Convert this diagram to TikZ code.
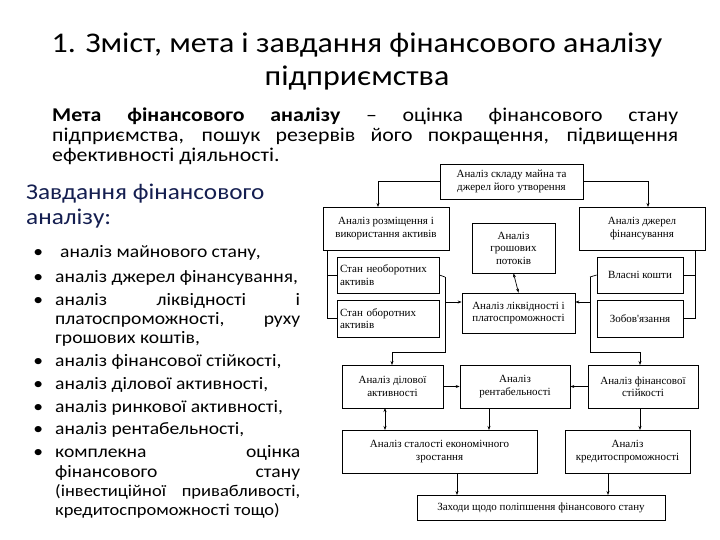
\documentclass[tikz,border=0pt]{standalone}
\usepackage{fontspec}
\setmainfont{Carlito}[FakeStretch=1.12]
\newfontfamily\dfont{Liberation Serif}
\usepackage{enumitem}
\usetikzlibrary{arrows.meta}
\definecolor{navy}{RGB}{20,30,80}
\begin{document}
\begin{tikzpicture}[x=1pt,y=-1pt,
  bx/.style={draw=black,line width=0.7pt,align=center,font=\dfont\fontsize{11}{12.5}\selectfont,inner sep=1pt},
  ln/.style={line width=0.7pt},
  ar/.style={line width=0.7pt,-{Stealth[length=4pt,width=3pt]}},
  dar/.style={line width=0.7pt,{Stealth[length=4pt,width=3pt]}-{Stealth[length=4pt,width=3pt]}}]
\useasboundingbox (0,0) rectangle (720,540);
\node (title) at (357,62) [align=center,font=\fontsize{28.5}{33}\selectfont] {1. Зміст, мета і завдання фінансового аналізу\\підприємства};
\node (goal) at (52,108) [anchor=north west,text width=626,align=justify,inner sep=0,font=\fontsize{19.5}{20}\selectfont] {\textbf{Мета фінансового аналізу} – оцінка фінансового стану підприємства, пошук резервів його покращення, підвищення ефективності діяльності.};
\node (task) at (26,184) [anchor=north west,align=left,inner sep=0,text=navy,font=\fontsize{22.5}{25}\selectfont] {Завдання фінансового\\аналізу:};
\node (list) at (26,238) [anchor=north west,text width=274,inner sep=0,align=justify,font=\fontsize{17.5}{19.3}\selectfont] {%
\begin{itemize}[leftmargin=29pt,labelsep=12pt,itemsep=3.5pt,topsep=0pt,parsep=0pt,partopsep=0pt]
\item \hspace{5pt}аналіз майнового стану,\vspace{2pt}
\item аналіз джерел фінансування,
\item аналіз ліквідності і платоспроможності, руху грошових коштів,
\item аналіз фінансової стійкості,
\item аналіз ділової активності,
\item аналіз ринкової активності,
\item аналіз рентабельності,
\item комплекна оцінка фінансового стану {\fontsize{16.5}{19.3}\selectfont (інвестиційної привабливості, кредитоспроможності тощо)}
\end{itemize}};
% diagram
\node[bx,minimum width=143,minimum height=35] (top) at (511.5,181.5) {Аналіз складу майна та\\джерел його утворення};
\node[bx,minimum width=126,minimum height=43] (plc) at (386,228.5) {Аналіз розміщення і\\використання активів};
\node[bx,minimum width=126,minimum height=43] (src) at (642,228.5) {Аналіз джерел\\фінансування};
\node[bx,minimum width=83,minimum height=50] (cash) at (513.5,248) {Аналіз\\грошових\\потоків};
\node[bx,minimum width=102,minimum height=36,align=left,text width=96] (fix) at (388,275) {Стан необоротних активів};
\node[bx,minimum width=102,minimum height=37,align=left,text width=96] (cur) at (388,318.5) {Стан оборотних активів};
\node[bx,minimum width=86,minimum height=36] (own) at (640,275) {Власні кошти};
\node[bx,minimum width=86,minimum height=37] (liab) at (640,318.5) {Зобов'язання};
\node[bx,minimum width=113,minimum height=40] (liq) at (518.5,313) {Аналіз ліквідності і\\платоспроможності};
\node[bx,minimum width=101,minimum height=43] (bus) at (392.5,386.5) {Аналіз ділової\\активності};
\node[bx,minimum width=110,minimum height=43] (prof) at (515,386.5) {Аналіз\\рентабельності};
\node[bx,minimum width=110,minimum height=43] (stab) at (643,386.5) {Аналіз фінансової\\стійкості};
\node[bx,minimum width=195,minimum height=43] (grow) at (439.5,451.5) {Аналіз сталості економічного\\зростання};
\node[bx,minimum width=125,minimum height=43] (cred) at (627.5,451.5) {Аналіз\\кредитоспроможності};
\node[bx,minimum width=248,minimum height=25] (fin) at (541,507.5) {Заходи щодо поліпшення фінансового стану};
\coordinate (tl) at (378,207); \coordinate (tr) at (648,207);
\draw[ar] (top.west) -| (tl);
\draw[ar] (top.east) -| (tr);
\draw[ln] (327,250) |- (fix.west);
\draw[ln] (327,250) |- (cur.west);
\draw[ln] (695,250) |- (own.east);
\draw[ln] (695,250) |- (liab.east);
\draw[dar] (cash.south) -- (liq.north);
\coordinate (lb) at (445,277); \coordinate (rb) at (590,277);
\draw[ln] (fix.east) -- (lb);
\draw[ln] (own.west) -- (rb);
\draw[ar] (445,302) -- (liq.west |- 0,302);
\draw[ar] (590,302) -- (liq.east |- 0,302);
\draw[ar] (lb) -- (445,352) -| (392,365);
\draw[ar] (rb) -- (590,352) -| (640,365);
\draw[ar] (bus.east) -- (prof.west);
\draw[ar] (stab.west) -- (prof.east);
\draw[dar] (385,408) -- (385,430);
\draw[ar] (489,408) -- (489,430);
\draw[ar] (640,408) -- (640,430);
\draw[ar] (457,473) -- (457,495);
\draw[ar] (608,473) -- (608,495);
\end{tikzpicture}
\end{document}
